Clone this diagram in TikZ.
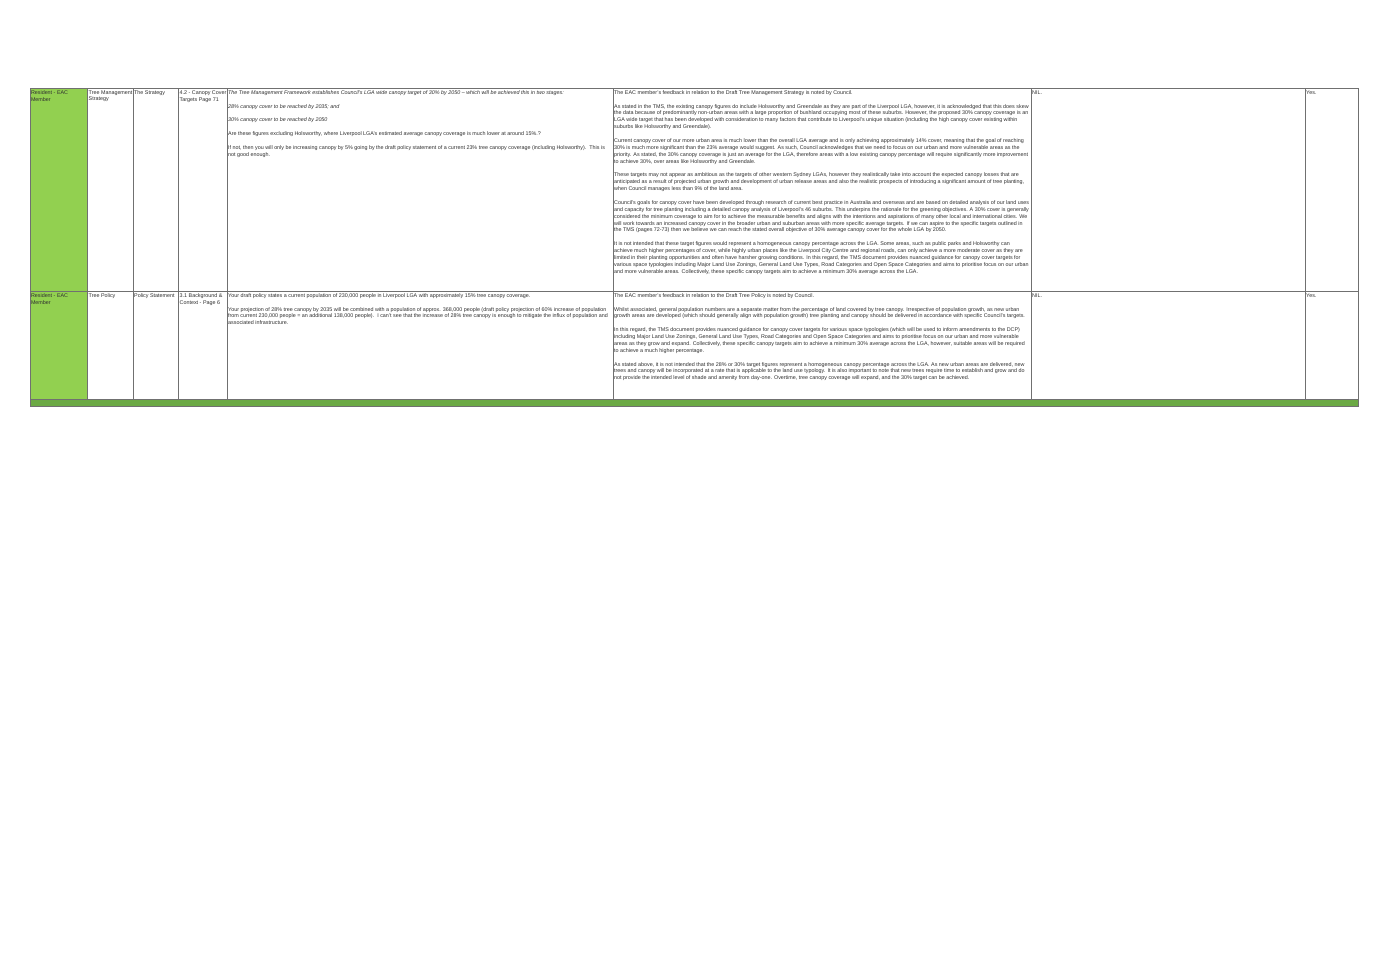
\documentclass[tikz,border=0pt]{standalone}
\usepackage{fontspec}
\setmainfont{Liberation Sans}
\definecolor{rowgreen}{HTML}{92D050}
\definecolor{bargreen}{HTML}{6BA944}
\definecolor{gridgrey}{HTML}{707070}
\definecolor{celltext}{HTML}{303030}
\tikzset{
  cell/.style={anchor=north west,inner sep=0pt,align=left,text=celltext,font=\fontsize{5.38}{6.88}\selectfont},
  gridline/.style={draw=gridgrey,line width=1pt}
}
\begin{document}
\begin{tikzpicture}[x=1pt,y=-1pt]
\useasboundingbox (0,0) rectangle (1383,977);
\fill[white] (0,0) rectangle (1383,977);

\fill[rowgreen] (30,88) rectangle (87.5,399);
\filldraw[gridline,fill=bargreen] (30,399.5) rectangle (1358,406);

\draw[gridline] (30,88) rectangle (1358,406);
\draw[gridline] (30,291) -- (1358,291);
\foreach \colx in {87.5,133,178.5,227,613,1031,1305}
  \draw[gridline] (\colx,88) -- (\colx,399.5);

% first row
\node[cell] (whoa) at (30.8,90.2) {Resident - EAC\\Member};
\node[cell] (doca) at (88.5,90.2) {Tree Management\\Strategy};
\node[cell] (parta) at (134,90.2) {The Strategy};
\node[cell] (pagea) at (179.5,90.2) {4.2 - Canopy Cover\\Targets Page 71};
\node[cell] (feedbacka) at (228,90.2) {\textit{The Tree Management Framework establishes Council's LGA wide canopy target of 30\% by 2050 – which will be achieved this in two stages:}\\[6.88pt]
\textit{28\% canopy cover to be reached by 2035; and}\\[6.88pt]
\textit{30\% canopy cover to be reached by 2050}\\[6.88pt]
Are these figures excluding Holsworthy, where Liverpool LGA's estimated average canopy coverage is much lower at around 15\%.?\\[6.88pt]
If not, then you will only be increasing canopy by 5\% going by the draft policy statement of a current 23\% tree canopy coverage (including Holsworthy).~~This is\\
not good enough.};
\node[cell] (replya) at (614,90.2) {The EAC member's feedback in relation to the Draft Tree Management Strategy is noted by Council.\\[6.88pt]
As stated in the TMS, the existing canopy figures do include Holsworthy and Greendale as they are part of the Liverpool LGA, however, it is acknowledged that this does skew\\
the data because of predominantly non-urban areas with a large proportion of bushland occupying most of these suburbs. However, the proposed 30\% canopy coverage is an\\
LGA wide target that has been developed with consideration to many factors that contribute to Liverpool's unique situation (including the high canopy cover existing within\\
suburbs like Holsworthy and Greendale).\\[6.88pt]
Current canopy cover of our more urban area is much lower than the overall LGA average and is only achieving approximately 14\% cover, meaning that the goal of reaching\\
30\% is much more significant than the 23\% average would suggest. As such, Council acknowledges that we need to focus on our urban and more vulnerable areas as the\\
priority. As stated, the 30\% canopy coverage is just an average for the LGA, therefore areas with a low existing canopy percentage will require significantly more improvement\\
to achieve 30\%, over areas like Holsworthy and Greendale.\\[6.88pt]
These targets may not appear as ambitious as the targets of other western Sydney LGAs, however they realistically take into account the expected canopy losses that are\\
anticipated as a result of projected urban growth and development of urban release areas and also the realistic prospects of introducing a significant amount of tree planting,\\
when Council manages less than 9\% of the land area.\\[6.88pt]
Council's goals for canopy cover have been developed through research of current best practice in Australia and overseas and are based on detailed analysis of our land uses\\
and capacity for tree planting including a detailed canopy analysis of Liverpool's 46 suburbs. This underpins the rationale for the greening objectives. A 30\% cover is generally\\
considered the minimum coverage to aim for to achieve the measurable benefits and aligns with the intentions and aspirations of many other local and international cities. We\\
will work towards an increased canopy cover in the broader urban and suburban areas with more specific average targets. If we can aspire to the specific targets outlined in\\
the TMS (pages 72-73) then we believe we can reach the stated overall objective of 30\% average canopy cover for the whole LGA by 2050.\\[6.88pt]
It is not intended that these target figures would represent a homogeneous canopy percentage across the LGA. Some areas, such as public parks and Holsworthy can\\
achieve much higher percentages of cover, while highly urban places like the Liverpool City Centre and regional roads, can only achieve a more moderate cover as they are\\
limited in their planting opportunities and often have harsher growing conditions. In this regard, the TMS document provides nuanced guidance for canopy cover targets for\\
various space typologies including Major Land Use Zonings, General Land Use Types, Road Categories and Open Space Categories and aims to prioritise focus on our urban\\
and more vulnerable areas. Collectively, these specific canopy targets aim to achieve a minimum 30\% average across the LGA.};
\node[cell] (changea) at (1032,90.2) {NIL.};
\node[cell] (donea) at (1306,90.2) {Yes.};

% second row
\node[cell] (whob) at (30.8,293.2) {Resident - EAC\\Member};
\node[cell] (docb) at (88.5,293.2) {Tree Policy};
\node[cell] (partb) at (134,293.2) {Policy Statement};
\node[cell] (pageb) at (179.5,293.2) {3.1 Background \&\\Context - Page 6};
\node[cell] (feedbackb) at (228,293.2) {Your draft policy states a current population of 230,000 people in Liverpool LGA with approximately 15\% tree canopy coverage.\\[6.88pt]
Your projection of 28\% tree canopy by 2035 will be combined with a population of approx. 368,000 people (draft policy projection of 60\% increase of population\\
from current 230,000 people = an additional 138,000 people).~~I can't see that the increase of 28\% tree canopy is enough to mitigate the influx of population and\\
associated infrastructure.};
\node[cell] (replyb) at (614,293.2) {The EAC member's feedback in relation to the Draft Tree Policy is noted by Council.\\[6.88pt]
Whilst associated, general population numbers are a separate matter from the percentage of land covered by tree canopy. Irrespective of population growth, as new urban\\
growth areas are developed (which should generally align with population growth) tree planting and canopy should be delivered in accordance with specific Council's targets.\\[6.88pt]
In this regard, the TMS document provides nuanced guidance for canopy cover targets for various space typologies (which will be used to inform amendments to the DCP)\\
including Major Land Use Zonings, General Land Use Types, Road Categories and Open Space Categories and aims to prioritise focus on our urban and more vulnerable\\
areas as they grow and expand. Collectively, these specific canopy targets aim to achieve a minimum 30\% average across the LGA, however, suitable areas will be required\\
to achieve a much higher percentage.\\[6.88pt]
As stated above, it is not intended that the 28\% or 30\% target figures represent a homogeneous canopy percentage across the LGA. As new urban areas are delivered, new\\
trees and canopy will be incorporated at a rate that is applicable to the land use typology. It is also important to note that new trees require time to establish and grow and do\\
not provide the intended level of shade and amenity from day-one. Overtime, tree canopy coverage will expand, and the 30\% target can be achieved.};
\node[cell] (changeb) at (1032,293.2) {NIL.};
\node[cell] (doneb) at (1306,293.2) {Yes.};
\end{tikzpicture}
\end{document}
